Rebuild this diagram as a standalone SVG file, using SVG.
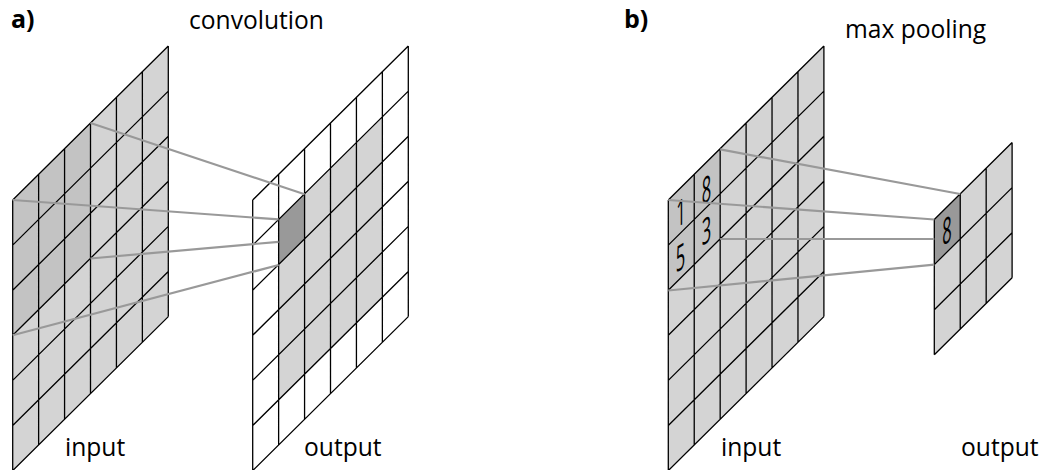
<svg xmlns="http://www.w3.org/2000/svg" xmlns:xlink="http://www.w3.org/1999/xlink" width="1043" height="470" viewBox="0 0 1043 470">
<style>
text{font-family:"Open Sans","Noto Sans","Liberation Sans",sans-serif;fill:#000}
.lbl{font-size:24.6px}
.head{font-size:25px;font-weight:700}
.dig{font-size:36px;opacity:.99}
.g{fill:none;stroke:#000;stroke-width:1.3}
.light{fill:#d4d4d4}
.mid{fill:#c3c3c3}
.dark{fill:#999}
.conn{fill:none;stroke:#999;stroke-width:2.2}
</style>
<defs>
<path id="grid6" class="g" d="M0 0v270.6M25.93 -25.67v270.6M51.87 -51.33v270.6M77.8 -77v270.6M103.73 -102.67v270.6M129.67 -128.33v270.6M155.6 -154v270.6M0 0l155.6 -154M0 45.1l155.6 -154M0 90.2l155.6 -154M0 135.3l155.6 -154M0 180.4l155.6 -154M0 225.5l155.6 -154M0 270.6l155.6 -154"/>
<path id="grid3" class="g" d="M0 0v135.3M25.93 -25.67v135.3M51.87 -51.33v135.3M77.8 -77v135.3M0 0l77.8 -77M0 45.1l77.8 -77M0 90.2l77.8 -77M0 135.3l77.8 -77"/>
<path id="plane6" d="M0 0l155.6 -154v270.6l-155.6 154z"/>
</defs>
<g id="conv-input" transform="translate(12.7 200)">
<use href="#plane6" class="light"/>
<path class="mid" d="M0 0l77.8 -77v135.3l-77.8 77z"/>
<use href="#grid6"/>
</g>
<g id="conv-output" transform="translate(252.7 200)">
<use href="#plane6" fill="#fff"/>
<path class="light" d="M25.93 19.43l103.74 -102.67v180.4l-103.74 102.67z"/>
<path class="dark" d="M25.93 19.43l25.94 -25.67v45.1l-25.94 25.67z"/>
<use href="#grid6"/>
</g>
<g id="pool-input" transform="translate(668.3 200)">
<use href="#plane6" class="light"/>
<path class="mid" d="M0 0l51.87 -51.33v90.2l-51.87 51.33z"/>
<use href="#grid6"/>
<text class="dig" transform="matrix(.46 -.28 0 1 8 28)">1</text>
<text class="dig" transform="matrix(.46 -.28 0 1 33.5 5)">8</text>
<text class="dig" transform="matrix(.46 -.28 0 1 33.5 46)">3</text>
<text class="dig" transform="matrix(.46 -.28 0 1 7.5 73)">5</text>
</g>
<g id="pool-output" transform="translate(934.3 219.5)">
<path class="light" d="M0 0l77.8 -77v135.3l-77.8 77z"/>
<path class="dark" d="M0 0l25.93 -25.67v45.1l-25.93 25.67z"/>
<use href="#grid3"/>
<text class="dig" transform="matrix(.46 -.28 0 1 8 26.5)">8</text>
</g>
<g id="connectors" class="conn">
<path d="M90.5 123L304.6 194.2"/>
<path d="M12.7 200L278.6 219.4"/>
<path d="M90.5 258.5L278.6 241.8"/>
<path d="M12.7 335.3L278.6 265"/>
<path d="M720.2 149.4L960.2 194"/>
<path d="M668.3 200L934.3 219.5"/>
<path d="M720.2 239H934.3"/>
<path d="M668.3 290.5L934.3 264.7"/>
</g>
<g id="labels">
<text class="head" x="11" y="28">a)</text>
<text class="head" x="624" y="28">b)</text>
<text class="lbl" x="189" y="29">convolution</text>
<text class="lbl" x="845" y="38">max pooling</text>
<text class="lbl" x="65" y="456">input</text>
<text class="lbl" x="304" y="456">output</text>
<text class="lbl" x="721" y="456">input</text>
<text class="lbl" x="961" y="456">output</text>
</g>
</svg>
